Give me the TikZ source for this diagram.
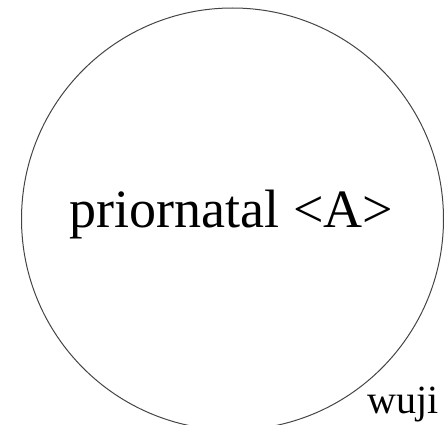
\documentclass[tikz,border=0pt]{standalone}
\usepackage{fontspec}
\setmainfont{Liberation Serif}
\usetikzlibrary{positioning}
\definecolor{rim}{HTML}{444444}

\begin{document}
\begin{tikzpicture}[
    x=1pt, y=1pt,
    ring/.style={draw=rim, line width=1pt, circle, minimum size=422pt, inner sep=0pt},
    title/.style={font=\fontsize{54}{60}\selectfont, inner sep=0pt},
    tag/.style={font=\fontsize{40}{46}\selectfont, inner sep=0pt}
  ]
    \useasboundingbox (0,0) rectangle (445,-425);
    \clip (0,0) rectangle (445,-425);
    \node[ring] (wuji) at (232.5,-219) {};
    \node[title, anchor=base] (prior) at (231.5,-228) {priornatal <A>};
    \node[tag, anchor=base west] (wujitag) at (367,-413) {wuji};
  \end{tikzpicture}
\end{document}
